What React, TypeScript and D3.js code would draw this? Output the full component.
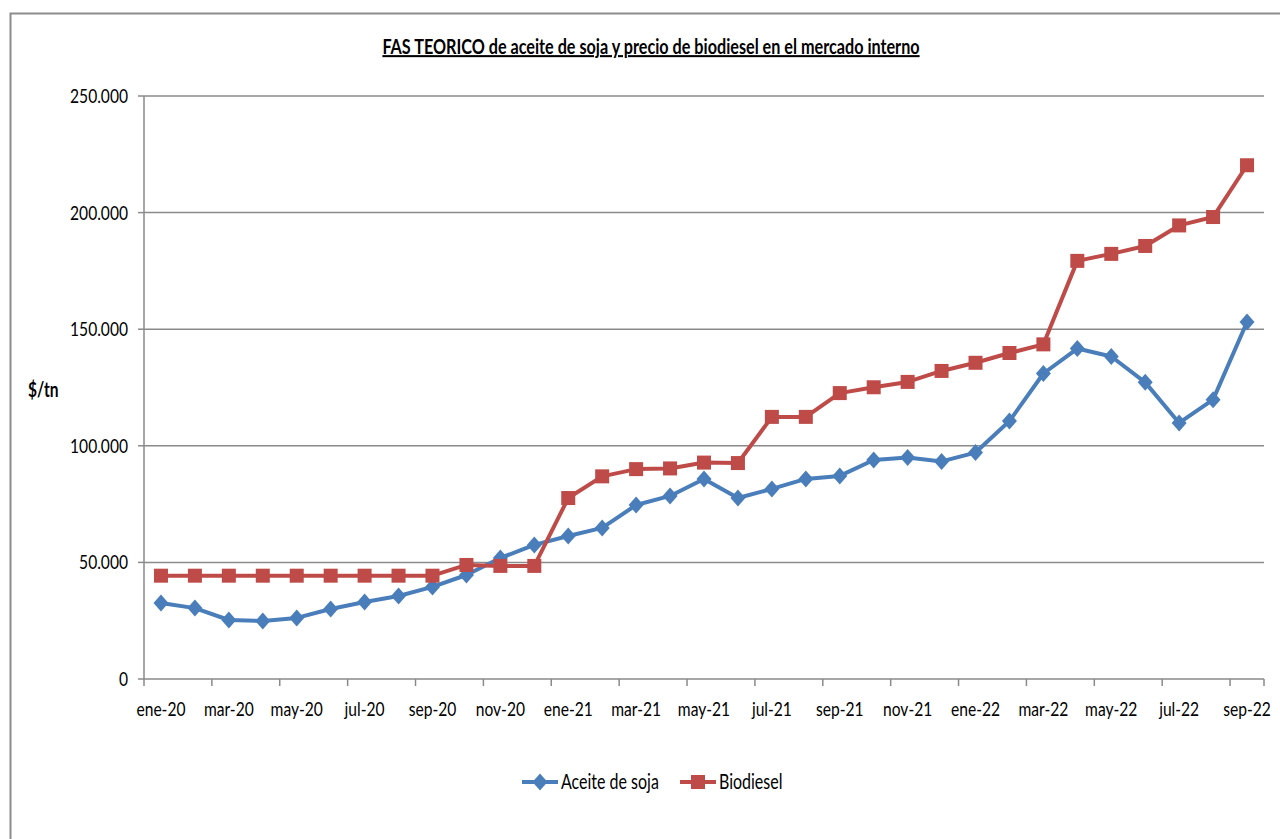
import React from "react";
import * as d3 from "d3";

const months: string[] = [
  "ene-20","feb-20","mar-20","abr-20","may-20","jun-20","jul-20","ago-20","sep-20","oct-20","nov-20","dic-20",
  "ene-21","feb-21","mar-21","abr-21","may-21","jun-21","jul-21","ago-21","sep-21","oct-21","nov-21","dic-21",
  "ene-22","feb-22","mar-22","abr-22","may-22","jun-22","jul-22","ago-22","sep-22",
];

const aceite: number[] = [
  32600, 30400, 25300, 24900, 26200, 30000, 33000, 35600, 39500, 44600, 51900, 57500,
  61300, 64800, 74600, 78500, 85800, 77600, 81500, 85800, 87100, 93900, 95000, 93300,
  97100, 110600, 131000, 141700, 138300, 127200, 109800, 119800, 153100,
];

const biodiesel: number[] = [
  44300, 44300, 44300, 44300, 44300, 44300, 44300, 44300, 44300, 48900, 48500, 48500,
  77600, 86900, 90000, 90300, 92800, 92600, 112400, 112400, 122600, 125100, 127400, 132100,
  135600, 139800, 143500, 179300, 182300, 185700, 194500, 198100, 220300,
];

const yTicks: number[] = [0, 50000, 100000, 150000, 200000, 250000];

const title = "FAS TEORICO de aceite de soja y precio de biodiesel en el mercado interno";
const yLabel = "$/tn";
const seriesNames = ["Aceite de soja", "Biodiesel"];

const BLUE = "#4A7EBB";
const RED = "#BE4B48";
const GRID = "#8A8A8A";
const FONT = "Lato, 'Open Sans', sans-serif";
const SX = 0.78;

const fmt = (v: number) => (v === 0 ? "0" : d3.format(",")(v).replace(/,/g, "."));

function T({ x, y, anchor = "start", size = 20, bold = false, underline = false, sx = SX, children }: any) {
  return (
    <text
      transform={`translate(${x},${y}) scale(${sx},1)`}
      textAnchor={anchor}
      fontFamily={FONT}
      fontSize={size}
      fontWeight={bold ? "bold" : "normal"}
      textDecoration={underline ? "underline" : undefined}
      fill="#000"
    >
      {children}
    </text>
  );
}

function Diamond({ x, y, r, color }: { x: number; y: number; r: number; color: string }) {
  return <path d={`M${x},${y - r - 1} L${x + r},${y} L${x},${y + r + 1} L${x - r},${y} Z`} fill={color} />;
}
function Square({ x, y, s, color }: { x: number; y: number; s: number; color: string }) {
  return <rect x={x - s / 2} y={y - s / 2} width={s} height={s} fill={color} />;
}

export default function App() {
  const W = 1280, H = 839;
  const left = 144, right = 1264, top = 96, bottom = 679;
  const x = d3.scaleBand<string>().domain(months).range([left, right]).paddingInner(0).paddingOuter(0);
  const cx = (m: string) => (x(m) as number) + x.bandwidth() / 2;
  const y = d3.scaleLinear().domain([0, 250000]).range([bottom, top]);

  const line = d3.line<number>().x((_, i) => cx(months[i])).y((d) => y(d));

  const tickIdx = months.map((_, i) => i).filter((i) => i % 2 === 0);

  return (
    <svg width={W} height={H} style={{ position: "absolute", left: 0, top: 0, background: "#fff" }}>
      <rect x={10.5} y={13.5} width={W + 20} height={H + 20} fill="#fff" stroke="#8C8C8C" strokeWidth={2} />
      <T x={651} y={54} anchor="middle" size={20.5} sx={0.79} bold underline>{title}</T>
      {yTicks.map((t) => (
        <g key={t}>
          {t > 0 && <line x1={left} x2={right} y1={y(t)} y2={y(t)} stroke={GRID} strokeWidth={1.5} />}
          <line x1={left - 6} x2={left} y1={y(t)} y2={y(t)} stroke={GRID} strokeWidth={1.5} />
          <T x={128} y={y(t) + 7} anchor="end">{fmt(t)}</T>
        </g>
      ))}
      <line x1={left} x2={left} y1={top} y2={bottom} stroke={GRID} strokeWidth={1.5} />
      <line x1={left} x2={right} y1={bottom} y2={bottom} stroke={GRID} strokeWidth={1.5} />
      {tickIdx.map((i) => (
        <line key={i} x1={x(months[i]) as number} x2={x(months[i]) as number} y1={bottom} y2={bottom + 7} stroke={GRID} strokeWidth={1.5} />
      ))}
      <line x1={right} x2={right} y1={bottom} y2={bottom + 7} stroke={GRID} strokeWidth={1.5} />
      {tickIdx.map((i) => (
        <T key={i} x={cx(months[i])} y={716} anchor="middle">{months[i]}</T>
      ))}
      <T x={28} y={397} bold>{yLabel}</T>
      <path d={line(aceite) as string} fill="none" stroke={BLUE} strokeWidth={4} strokeLinejoin="round" />
      {aceite.map((v, i) => (
        <Diamond key={i} x={cx(months[i])} y={y(v)} r={7.5} color={BLUE} />
      ))}
      <path d={line(biodiesel) as string} fill="none" stroke={RED} strokeWidth={4} strokeLinejoin="round" />
      {biodiesel.map((v, i) => (
        <Square key={i} x={cx(months[i])} y={y(v)} s={14} color={RED} />
      ))}
      <line x1={522} x2={558} y1={782} y2={782} stroke={BLUE} strokeWidth={4} />
      <Diamond x={540} y={782} r={7.5} color={BLUE} />
      <T x={561} y={789} size={20.5}>{seriesNames[0]}</T>
      <line x1={680} x2={716} y1={782} y2={782} stroke={RED} strokeWidth={4} />
      <Square x={698} y={782} s={14} color={RED} />
      <T x={719} y={789} size={20.5}>{seriesNames[1]}</T>
    </svg>
  );
}
